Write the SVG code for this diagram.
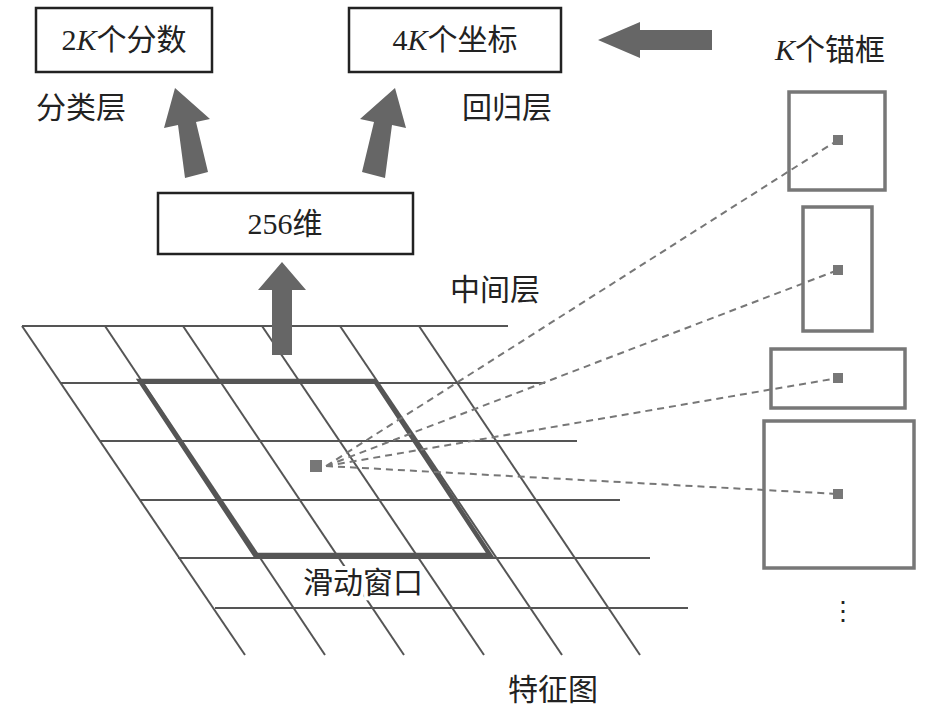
<svg xmlns="http://www.w3.org/2000/svg" width="928" height="712" viewBox="0 0 928 712">
<style>
text{font-family:"Liberation Serif","Noto Sans CJK SC",serif;font-size:30px;fill:#222}
.box{fill:#fff;stroke:#222;stroke-width:2.5}
.grid line{stroke:#555;stroke-width:2}
.anc{fill:none;stroke:#777;stroke-width:3.5}
.dash{stroke:#777;stroke-width:2;stroke-dasharray:7 5;fill:none}
.arr{fill:#666}
.pt{fill:#777}
</style>
<rect width="928" height="712" fill="#fff"/>
<g id="grid" class="grid">
<line x1="22" y1="326" x2="508" y2="326"/>
<line x1="60" y1="383" x2="545" y2="383"/>
<line x1="100" y1="441" x2="577" y2="441"/>
<line x1="140" y1="500" x2="620" y2="500"/>
<line x1="178" y1="558" x2="650" y2="558"/>
<line x1="215" y1="608" x2="688" y2="608"/>
<line x1="22" y1="326" x2="245" y2="655"/>
<line x1="105" y1="326" x2="325" y2="655"/>
<line x1="183" y1="326" x2="404" y2="655"/>
<line x1="262" y1="326" x2="484" y2="655"/>
<line x1="340" y1="326" x2="562" y2="655"/>
<line x1="419" y1="326" x2="640" y2="655"/>
</g>
<g id="window"><polygon points="140,381 375,381 490,555 255,555" fill="none" stroke="#555" stroke-width="4.5"/>
<text x="303" y="593" style="fill:#fff;stroke:#fff;stroke-width:8">滑动窗口</text>
<text x="303" y="593">滑动窗口</text></g>
<g id="anchors">
<rect class="anc" x="789" y="92" width="96" height="98"/>
<rect class="anc" x="803" y="207" width="69" height="124"/>
<rect class="anc" x="771" y="349" width="134" height="59"/>
<rect class="anc" x="764" y="421" width="150" height="147"/>
<rect class="pt" x="833" y="135" width="10" height="10"/>
<rect class="pt" x="833" y="265" width="10" height="10"/>
<rect class="pt" x="833" y="373" width="10" height="10"/>
<rect class="pt" x="833" y="489" width="10" height="10"/>
<rect class="pt" x="310" y="460" width="12" height="12"/>
<text x="830" y="620" style="font-size:26px">⋮</text>
</g>
<g id="connectors">
<path class="dash" d="M326 466 L838 140 M326 466 L838 270 M326 466 L838 378 M326 466 L838 494"/>
<polygon class="arr" points="712,30 640,30 640,22 598,40 640,58 640,50 712,50"/>
<polygon class="arr" points="272,355 292,355 292,290 306,290 282,262 258,290 272,290"/>
<polygon class="arr" points="185,178 208,172 196,122 210,119 175,88 164,128 178,125"/>
<polygon class="arr" points="385,178 362,172 374,122 360,119 395,88 406,128 392,125"/>
</g>
<g id="n1"><rect class="box" x="36" y="8" width="176" height="64"/><text x="124" y="50" text-anchor="middle">2<tspan font-style="italic">K</tspan>个分数</text></g>
<g id="n2"><rect class="box" x="349" y="8" width="212" height="64"/><text x="455" y="50" text-anchor="middle">4<tspan font-style="italic">K</tspan>个坐标</text></g>
<g id="n3"><rect class="box" x="158" y="193" width="255" height="61"/><text x="285" y="234" text-anchor="middle">256维</text></g>
<text x="36" y="118">分类层</text>
<text x="462" y="118">回归层</text>
<text x="450" y="300">中间层</text>
<text x="508" y="700">特征图</text>
<text x="775" y="60"><tspan font-style="italic">K</tspan>个锚框</text>
</svg>
